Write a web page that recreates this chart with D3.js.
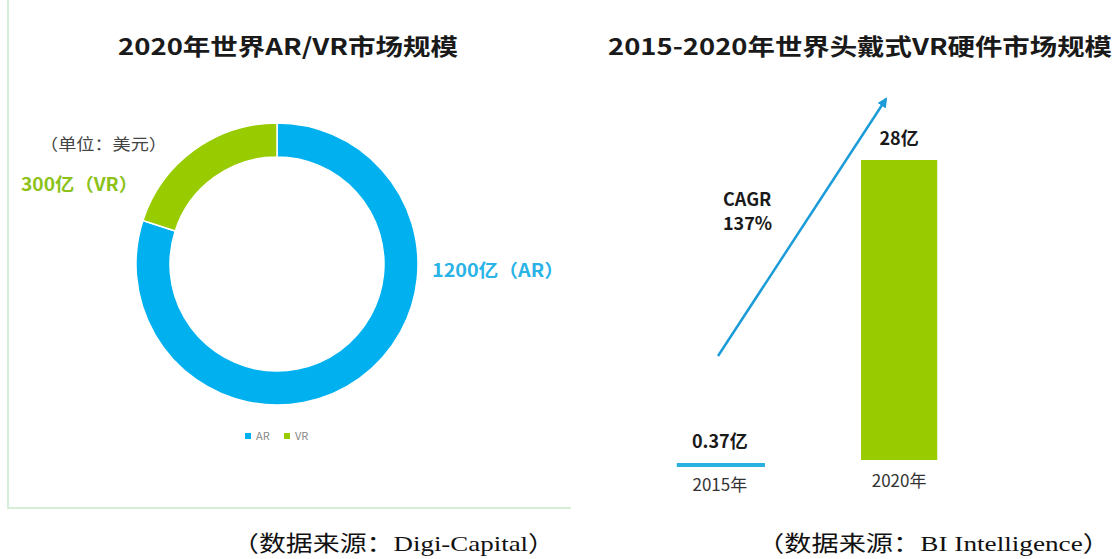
<!DOCTYPE html>
<html>
<head>
<meta charset="utf-8">
<script src="https://cdn.jsdelivr.net/npm/d3@7"></script>
<style>
  body { margin: 0; background: #fff; }
  svg { display: block; }
</style>
</head>
<body>
<div id="chart"></div>
<script>
// left: 2020 AR/VR market (亿美元)
const marketCats = ['AR', 'VR'];
const marketValues = [1200, 300];
const marketLabels = ['1200亿（AR）', '300亿（VR）'];

// right: head-mounted VR hardware (亿)
const years = ['2015', '2020'];
const hwValues = [0.37, 28];
const hwLabels = ['0.37亿', '28亿'];
const yearLabels = ['2015年', '2020年'];

const W = 1117, H = 559;
const blue = '#00b0ef', green = '#99cc00';
const cjk = '"Noto Sans CJK SC", "Noto Sans", sans-serif';
const serif = '"Liberation Serif", "Noto Sans CJK SC", serif';

const svg = d3.select('#chart').append('svg')
  .attr('width', W).attr('height', H)
  .style('background', '#fff');

// light green frame round the left panel
svg.append('path')
  .attr('d', 'M8,0 V508 H571')
  .attr('fill', 'none')
  .attr('stroke', '#d6eed8')
  .attr('stroke-width', 2);

function label(x, y, txt, opts) {
  const t = svg.append('text')
    .attr('x', x).attr('y', y)
    .attr('font-family', opts.family || cjk)
    .attr('font-size', opts.size)
    .attr('font-weight', opts.weight || 'normal')
    .attr('fill', opts.color || '#222')
    .attr('text-anchor', opts.anchor || 'start')
    .text(txt);
  if (opts.width) t.attr('textLength', opts.width).attr('lengthAdjust', 'spacingAndGlyphs');
  return t;
}

// titles
label(118, 55, '2020年世界AR/VR市场规模', {size: 23, weight: 'bold', width: 340, color: '#1a1a1a'});
label(608, 55, '2015-2020年世界头戴式VR硬件市场规模', {size: 23, weight: 'bold', width: 504, color: '#1a1a1a'});

// ---- donut ----
const color = d3.scaleOrdinal().domain(marketCats).range([blue, green]);
const pie = d3.pie().sort(null).value(d => d.v);
const arc = d3.arc().innerRadius(107).outerRadius(141);
const donutData = marketCats.map((c, i) => ({c: c, v: marketValues[i]}));

const g = svg.append('g').attr('transform', 'translate(277,264)');
g.selectAll('path')
  .data(pie(donutData))
  .join('path')
  .attr('d', arc)
  .attr('fill', d => color(d.data.c))
  .attr('stroke', '#fff')
  .attr('stroke-width', 1.5);

label(40, 150, '（单位：美元）', {size: 16, color: '#444', width: 127});
label(21, 191, marketLabels[1], {size: 18, weight: 'bold', color: '#8cc21a', width: 117});
label(432, 277, marketLabels[0], {size: 18, weight: 'bold', color: '#2ab3e6', width: 132});

// legend
const lg = svg.append('g').attr('transform', 'translate(245,433)');
const legendX = d3.scalePoint().domain(marketCats).range([0, 39]);
marketCats.forEach(c => {
  lg.append('rect').attr('x', legendX(c)).attr('y', 0).attr('width', 6).attr('height', 6)
    .attr('fill', color(c));
  lg.append('text').attr('x', legendX(c) + 11).attr('y', 7)
    .attr('font-family', cjk).attr('font-size', 11).attr('fill', '#888')
    .text(c);
});

// ---- bars ----
const x = d3.scaleBand().domain(years).range([628, 991]).paddingInner(0.575).paddingOuter(0.3);
const y = d3.scaleLinear().domain([0, 28]).range([460, 160]);
const barColor = d3.scaleOrdinal().domain(years).range(['#2ab0e0', green]);

svg.append('g').selectAll('rect')
  .data(years)
  .join('rect')
  .attr('x', (d, i) => i === 0 ? x(d) - 5 : x(d))
  .attr('width', (d, i) => i === 0 ? x.bandwidth() + 12 : x.bandwidth())
  .attr('y', (d, i) => i === 0 ? y(0) + 3 : y(hwValues[i]))
  .attr('height', (d, i) => Math.max(3, y(0) - y(hwValues[i])))
  .attr('fill', d => barColor(d));

years.forEach((yr, i) => {
  const cx = x(yr) + x.bandwidth() / 2;
  const top = i === 0 ? y(0) - 12 : y(hwValues[i]) - 15;
  label(cx, top, hwLabels[i], {size: 18, weight: 'bold', anchor: 'middle', color: '#1a1a1a'});
  label(cx, i === 0 ? 491 : 487, yearLabels[i], {size: 17, anchor: 'middle', color: '#333'});
});

// CAGR arrow
svg.append('defs').append('marker')
  .attr('id', 'ah').attr('viewBox', '0 0 10 10')
  .attr('refX', 8).attr('refY', 5)
  .attr('markerWidth', 4).attr('markerHeight', 4)
  .attr('orient', 'auto')
  .append('path').attr('d', 'M0,0 L10,5 L0,10 z').attr('fill', '#1b9cd8');

svg.append('line')
  .attr('x1', 718).attr('y1', 356).attr('x2', 886).attr('y2', 99)
  .attr('stroke', '#1b9cd8').attr('stroke-width', 2.5)
  .attr('marker-end', 'url(#ah)');

label(723, 206, 'CAGR', {size: 18, weight: 'bold', color: '#1a1a1a'});
label(723, 230, '137%', {size: 18, weight: 'bold', color: '#1a1a1a'});

// sources
label(232, 551, '（数据来源：Digi-Capital）', {size: 22, family: serif, color: '#111', width: 323});
label(757, 551, '（数据来源：BI Intelligence）', {size: 22, family: serif, color: '#111', width: 353});
</script>
</body>
</html>
